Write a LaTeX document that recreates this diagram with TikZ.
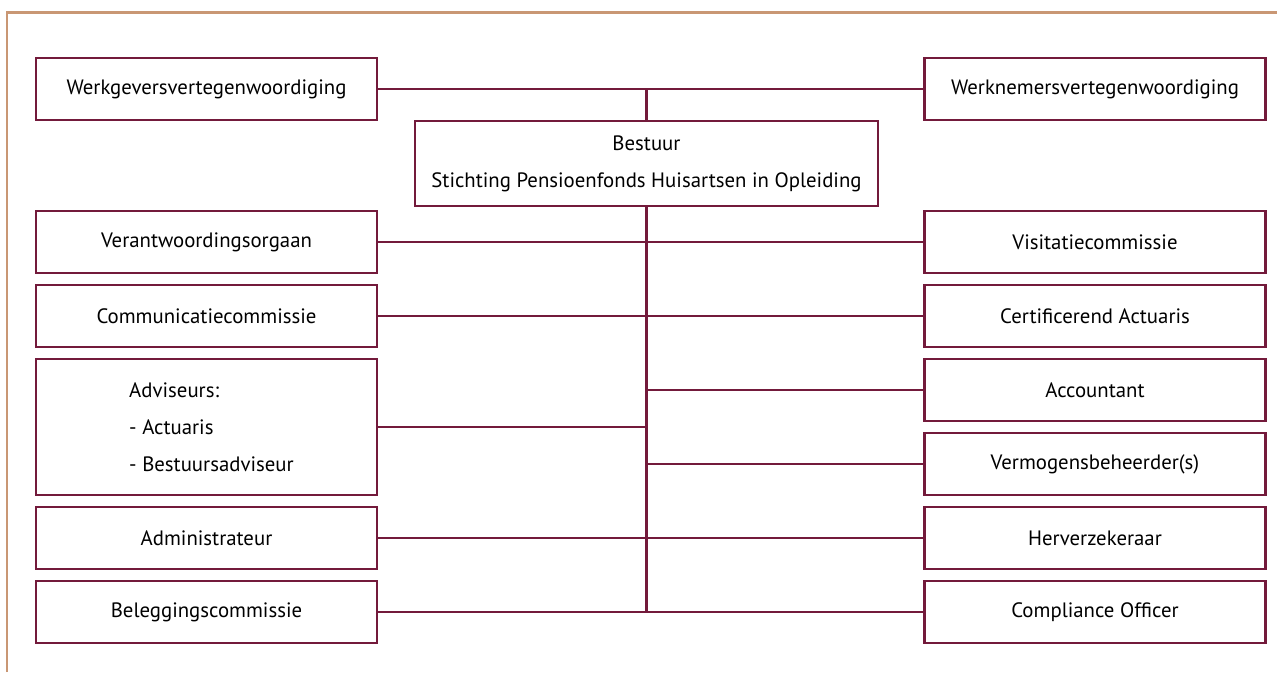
\documentclass[tikz,border=0pt]{standalone}
\usepackage{fontspec}
\setmainfont{PT Sans}
\definecolor{maroon}{HTML}{731A3B}
\definecolor{frametan}{HTML}{C99774}
\begin{document}
\begin{tikzpicture}[x=1pt,y=-1pt,
  box/.style={draw=maroon, line width=2.8pt, fill=white, inner sep=0pt,
    minimum width=341pt, minimum height=62pt, font=\fontsize{20.8}{37}\selectfont, align=center},
  conn/.style={draw=maroon, line width=2.8pt}]
\useasboundingbox (0,0) rectangle (1277,672);
\draw[frametan, line width=2.5pt] (7,672) -- (7,12.5) -- (1277,12.5);

\node[box] (wg) at (206.5,89) {Werkgeversvertegenwoordiging};
\node[box] (wn) at (1095,89) {Werknemersvertegenwoordiging};
\node[box, minimum width=463pt, minimum height=85pt] (b) at (646.5,163.5) {Bestuur\\Stichting Pensioenfonds Huisartsen in Opleiding};

\node[box] (l1) at (206.5,242) {Verantwoordingsorgaan};
\node[box] (l2) at (206.5,316) {Communicatiecommissie};
\node[box, minimum height=136pt, align=left] (l3) at (206.5,427) {\hspace*{10pt}Adviseurs:\\\hspace*{10pt}- Actuaris\\\hspace*{10pt}- Bestuursadviseur};
\node[box] (l4) at (206.5,538) {Administrateur};
\node[box] (l5) at (206.5,612) {Beleggingscommissie};

\node[box] (r1) at (1095,242) {Visitatiecommissie};
\node[box] (r2) at (1095,316) {Certificerend Actuaris};
\node[box] (r3) at (1095,390) {Accountant};
\node[box] (r4) at (1095,464) {Vermogensbeheerder(s)};
\node[box] (r5) at (1095,538) {Herverzekeraar};
\node[box] (r6) at (1095,612) {Compliance Officer};

\draw[conn] (wg.east) -- (wn.west);
\draw[conn] (b.north) -- (b.north |- wg.east);
\draw[conn] (b.south) -- (b.south |- l5.east);
\foreach \n in {l1,l2,l3,l4,l5}{\draw[conn] (\n.east) -- (\n.east -| b.south);}
\foreach \n in {r1,r2,r3,r4,r5,r6}{\draw[conn] (\n.west) -- (\n.west -| b.south);}
\end{tikzpicture}
\end{document}
